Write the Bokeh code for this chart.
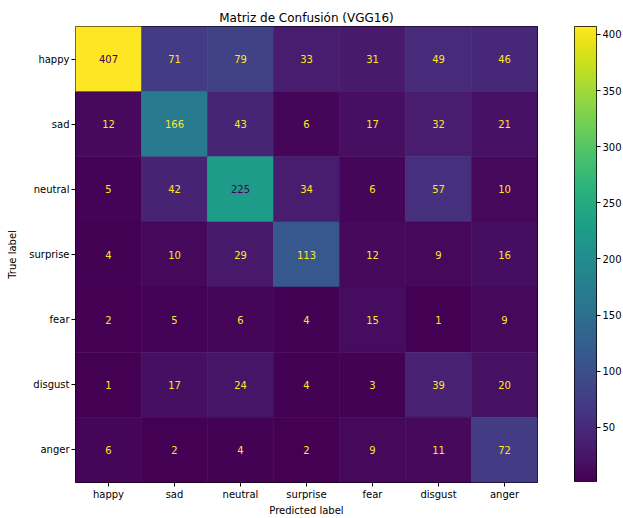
import numpy as np
from bokeh.plotting import figure
from bokeh.layouts import row
from bokeh.models import ColumnDataSource, LinearColorMapper, FixedTicker, Range1d
from bokeh.palettes import Viridis256
from bokeh.embed import file_html
from bokeh.resources import INLINE
from bokeh.core.properties import value

labels = ["happy", "sad", "neutral", "surprise", "fear", "disgust", "anger"]
matrix = [
    [407, 71, 79, 33, 31, 49, 46],
    [12, 166, 43, 6, 17, 32, 21],
    [5, 42, 225, 34, 6, 57, 10],
    [4, 10, 29, 113, 12, 9, 16],
    [2, 5, 6, 4, 15, 1, 9],
    [1, 17, 24, 4, 3, 39, 20],
    [6, 2, 4, 2, 9, 11, 72],
]
cbar_ticks = [50, 100, 150, 200, 250, 300, 350, 400]

vmin = min(min(r) for r in matrix)
vmax = max(max(r) for r in matrix)
thresh = (vmin + vmax) / 2.0

xs, ys, vals, txt, tcol = [], [], [], [], []
for i, t in enumerate(labels):
    for j, pr in enumerate(labels):
        v = matrix[i][j]
        xs.append(pr)
        ys.append(t)
        vals.append(v)
        txt.append(str(v))
        tcol.append("#440154" if v > thresh else "#fde725")

src = ColumnDataSource(dict(x=xs, y=ys, v=vals, t=txt, c=tcol))
mapper = LinearColorMapper(palette=Viridis256, low=vmin, high=vmax)

FONT = "DejaVu Sans"
FH = 456
TOP = 26
p = figure(frame_width=462, frame_height=FH, x_range=labels, y_range=labels[::-1],
           output_backend="svg", toolbar_location=None,
           title="Matriz de Confusión (VGG16)",
           min_border_left=75, min_border_top=TOP, min_border_bottom=0,
           min_border_right=37)
fill = {"field": "v", "transform": mapper}
p.rect(x="x", y="y", width=1, height=1, source=src,
       fill_color=fill, line_color=fill, line_width=0.6)
p.text(x="x", y="y", text="t", source=src, text_color="c",
       text_align="center", text_baseline="middle",
       text_font=value(FONT), text_font_size="10px")

p.title.align = "center"
p.title.text_font = FONT
p.title.text_font_size = "12px"
p.title.text_font_style = "normal"
p.title.text_color = "black"
p.title.standoff = 4

p.grid.visible = False
p.outline_line_color = "black"
p.outline_line_width = 1
for ax in (p.xaxis, p.yaxis):
    ax.axis_line_color = None
    ax.major_tick_line_color = "black"
    ax.major_tick_out = 4
    ax.major_tick_in = 0
    ax.major_label_standoff = 2
    ax.major_label_text_font = FONT
    ax.major_label_text_font_size = "10px"
    ax.major_label_text_color = "black"
    ax.axis_label_text_font = FONT
    ax.axis_label_text_font_size = "10px"
    ax.axis_label_text_font_style = "normal"
    ax.axis_label_text_color = "black"
    ax.axis_label_standoff = 2
p.xaxis.axis_label = "Predicted label"
p.yaxis.axis_label = "True label"
p.yaxis.axis_label_standoff = 8

# colorbar as its own small figure
grad = np.linspace(vmin, vmax, 256).reshape(256, 1)
cb = figure(frame_width=22, frame_height=FH, x_range=Range1d(0, 1),
            y_range=Range1d(vmin, vmax), y_axis_location="right",
            output_backend="svg", toolbar_location=None,
            min_border_left=0, min_border_top=TOP, min_border_right=0,
            min_border_bottom=0)
cb.image(image=[grad], x=0, y=vmin, dw=1, dh=vmax - vmin, color_mapper=mapper)
cb.xaxis.visible = False
cb.grid.visible = False
cb.outline_line_color = "black"
cb.yaxis.ticker = FixedTicker(ticks=cbar_ticks)
cb.yaxis.axis_line_color = None
cb.yaxis.major_tick_line_color = "black"
cb.yaxis.major_tick_out = 4
cb.yaxis.major_tick_in = 0
cb.yaxis.minor_tick_line_color = None
cb.yaxis.major_label_standoff = 2
cb.yaxis.major_label_text_font = FONT
cb.yaxis.major_label_text_font_size = "10px"
cb.yaxis.major_label_text_color = "black"

layout = row(p, cb, spacing=0)
open("out.html", "w").write(file_html(layout, INLINE))
